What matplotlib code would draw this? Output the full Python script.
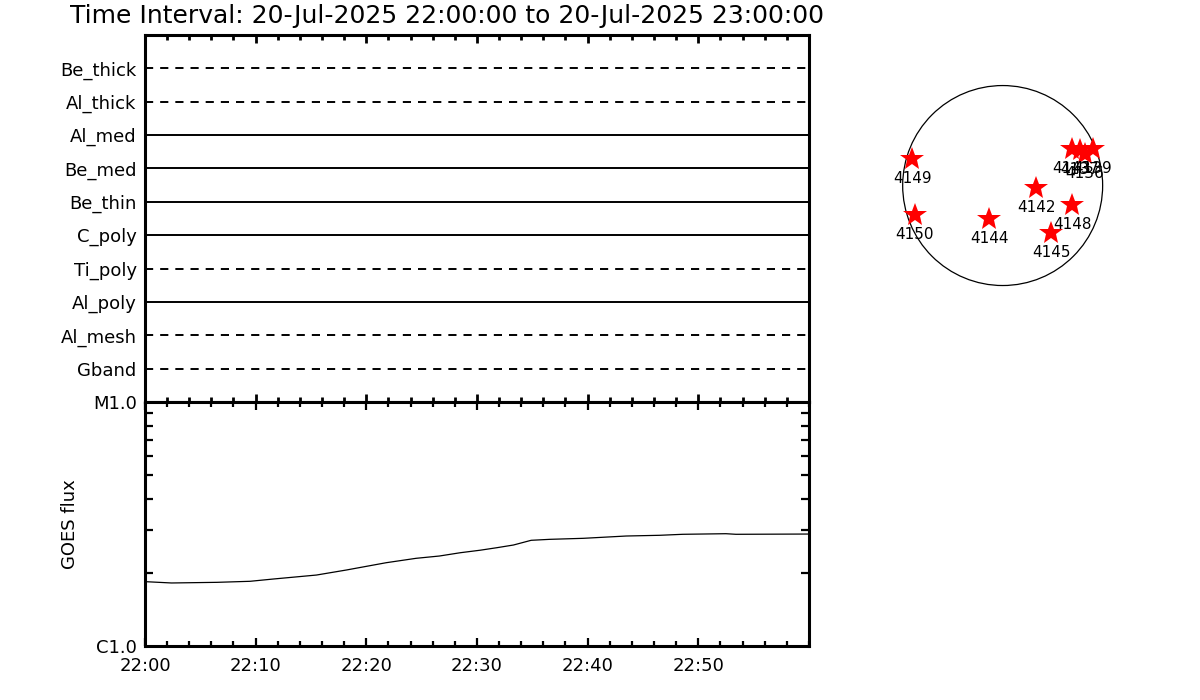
import numpy as np
import matplotlib
matplotlib.use("Agg")
import matplotlib.pyplot as plt
from matplotlib.patches import Circle

title = "Time Interval: 20-Jul-2025 22:00:00 to 20-Jul-2025 23:00:00"

# filter channels (top to bottom) and whether they are dashed
channels = ["Be_thick", "Al_thick", "Al_med", "Be_med", "Be_thin",
            "C_poly", "Ti_poly", "Al_poly", "Al_mesh", "Gband"]
dashed = [True, True, False, False, False, False, True, False, True, True]

# GOES flux (minutes after 22:00, W/m^2)
goes_min = [0.1, 2.4, 6.5, 9.5, 11.6, 15.5, 18.2, 21.8, 24.5, 26.6, 28.5,
            30.3, 31.8, 33.3, 34.9, 36.6, 39.6, 43.5, 46.5, 48.6, 52.5,
            53.4, 59.9]
goes_flux = [1.835e-6, 1.813e-6, 1.824e-6, 1.842e-6, 1.882e-6, 1.954e-6,
             2.049e-6, 2.195e-6, 2.288e-6, 2.338e-6, 2.412e-6, 2.47e-6,
             2.529e-6, 2.594e-6, 2.712e-6, 2.737e-6, 2.763e-6, 2.824e-6,
             2.843e-6, 2.870e-6, 2.886e-6, 2.870e-6, 2.877e-6]
xtick_labels = ["22:00", "22:10", "22:20", "22:30", "22:40", "22:50"]

# active regions on the disk (arcsec)
ar_num = ["4149", "4150", "4144", "4142", "4148", "4145",
          "4143", "4137", "4136", "4139"]
ar_x = [-866, -842, -128, 324, 668, 468, 665, 742, 790, 867]
ar_y = [252, -283, -324, -27, -187, -453, 350, 341, 302, 350]

fig = plt.figure(figsize=(12, 7), dpi=100)
fs = 13

fig.text(0.058, 0.977, title, fontsize=18, ha="left", va="center")

# ---- top panel: channel list
ax1 = fig.add_axes([0.1208, 0.4257, 0.5533, 0.5243])
for i, (name, d) in enumerate(zip(channels, dashed)):
    yv = len(channels) - i
    if d:
        ax1.plot([0, 60], [yv, yv], color="black", lw=1.4, ls=(0, (4.2, 3.6)))
    else:
        ax1.plot([0, 60], [yv, yv], color="black", lw=1.4)
ax1.set_xlim(0, 60)
ax1.set_ylim(0, 11)
ax1.set_yticks(range(len(channels), 0, -1))
ax1.set_yticklabels(channels, fontsize=fs)
ax1.tick_params(axis="y", length=0, pad=6)
ax1.set_xticks(np.arange(0, 61, 10))
ax1.set_xticks(np.arange(0, 61, 2), minor=True)
ax1.tick_params(axis="x", which="both", direction="in", top=True,
                bottom=True, labelbottom=False, width=2)
ax1.tick_params(axis="x", which="major", length=6)
ax1.tick_params(axis="x", which="minor", length=3.5)

# ---- bottom panel: GOES
ax2 = fig.add_axes([0.1208, 0.0771, 0.5533, 0.3486])
ax2.plot(goes_min, goes_flux, color="black", lw=0.9)
ax2.set_yscale("log")
ax2.set_ylim(1e-6, 1e-5)
ax2.set_xlim(0, 60)
ax2.set_yticks([1e-6, 1e-5])
ax2.set_yticklabels(["C1.0", "M1.0"], fontsize=fs)
ax2.set_yticks([k * 1e-6 for k in range(2, 10)], minor=True)
ax2.yaxis.set_minor_formatter(plt.NullFormatter())
ax2.set_ylabel("GOES flux", fontsize=fs, labelpad=10)
ax2.set_xticks(np.arange(0, 51, 10))
ax2.set_xticklabels(xtick_labels, fontsize=fs)
ax2.set_xticks(np.arange(0, 61, 2), minor=True)
ax2.tick_params(axis="both", which="both", direction="in", top=True,
                right=True, width=1.6)
ax2.tick_params(axis="x", which="major", length=6, pad=8)
ax2.tick_params(axis="x", which="minor", length=3.5)
ax2.tick_params(axis="y", which="minor", length=6)
ax2.tick_params(axis="y", which="major", length=0, pad=6)

for ax in (ax1, ax2):
    for sp in ax.spines.values():
        sp.set_linewidth(2.2)

# ---- solar disk (axes placed so that 1200 arcsec = 125 px)
ax3 = fig.add_axes([0.7314, 0.5564, 0.2083, 0.3571])
ax3.set_xlim(-1200, 1200)
ax3.set_ylim(-1200, 1200)
ax3.set_aspect("equal")
ax3.axis("off")
ax3.add_patch(Circle((0, 0), 960, fill=False, color="black", lw=0.9))
ax3.plot(ar_x, ar_y, ls="none", marker="*", color="red", ms=18, mew=0)
for n, x, y in zip(ar_num, ar_x, ar_y):
    ax3.annotate(n, (x, y), xytext=(0, -14), textcoords="offset points",
                 ha="center", va="center", fontsize=11)

fig.savefig("out.png", dpi=100)
